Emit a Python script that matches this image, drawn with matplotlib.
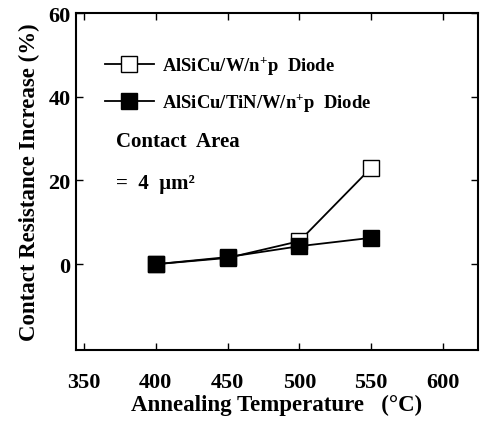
import matplotlib
matplotlib.use("Agg")
import matplotlib.pyplot as plt

plt.rcParams['font.family'] = 'Liberation Serif'
plt.rcParams['font.weight'] = 'bold'
plt.rcParams['mathtext.fontset'] = 'custom'
plt.rcParams['mathtext.rm'] = 'Liberation Serif:bold'
plt.rcParams['mathtext.it'] = 'Liberation Serif:italic:bold'
plt.rcParams['mathtext.bf'] = 'Liberation Serif:bold'

temps = [400, 450, 500, 550]
w_diode = [0.0, 1.5, 5.5, 23.0]
tin_diode = [0.0, 1.7, 4.3, 6.3]
xticks = [350, 400, 450, 500, 550, 600]
yticks = [0, 20, 40, 60]

fig = plt.figure(figsize=(5.01, 4.27), dpi=100)
ax = fig.add_axes([0.152, 0.178, 0.802, 0.789])

ax.plot(temps, w_diode, color='black', lw=1.3, marker='s', ms=11,
        mfc='white', mec='black', mew=1.0, label='AlSiCu/W/n$^{+}$p  Diode')
ax.plot(temps, tin_diode, color='black', lw=1.3, marker='s', ms=11,
        mfc='black', mec='black', label='AlSiCu/TiN/W/n$^{+}$p  Diode')

ax.set_xlim(344.5, 624.5)
ax.set_ylim(-20.5, 60)
ax.set_xticks(xticks)
ax.set_yticks(yticks)
ax.tick_params(direction='in', length=5, width=1, top=True, right=True,
               labelsize=16)
ax.tick_params(axis='x', pad=16)
ax.tick_params(axis='y', pad=4)
for s in ax.spines.values():
    s.set_linewidth(1.5)

ax.set_xlabel('Annealing Temperature   (°C)', fontsize=16.5, fontweight='bold', labelpad=1)
ax.set_ylabel('Contact Resistance Increase (%)', fontsize=16.5, fontweight='bold', labelpad=6)

leg = ax.legend(loc='upper left', bbox_to_anchor=(0.054, 0.9), frameon=False,
                fontsize=13.4, handlelength=2.6, handletextpad=0.45,
                labelspacing=0.8, borderaxespad=0)

ax.text(0.1, 0.62, 'Contact  Area', transform=ax.transAxes, fontsize=15,
        fontweight='bold', va='center')
ax.text(0.1, 0.495, '=  4  μm²', transform=ax.transAxes, fontsize=15,
        fontweight='bold', va='center')

fig.savefig('out.png', dpi=100)
